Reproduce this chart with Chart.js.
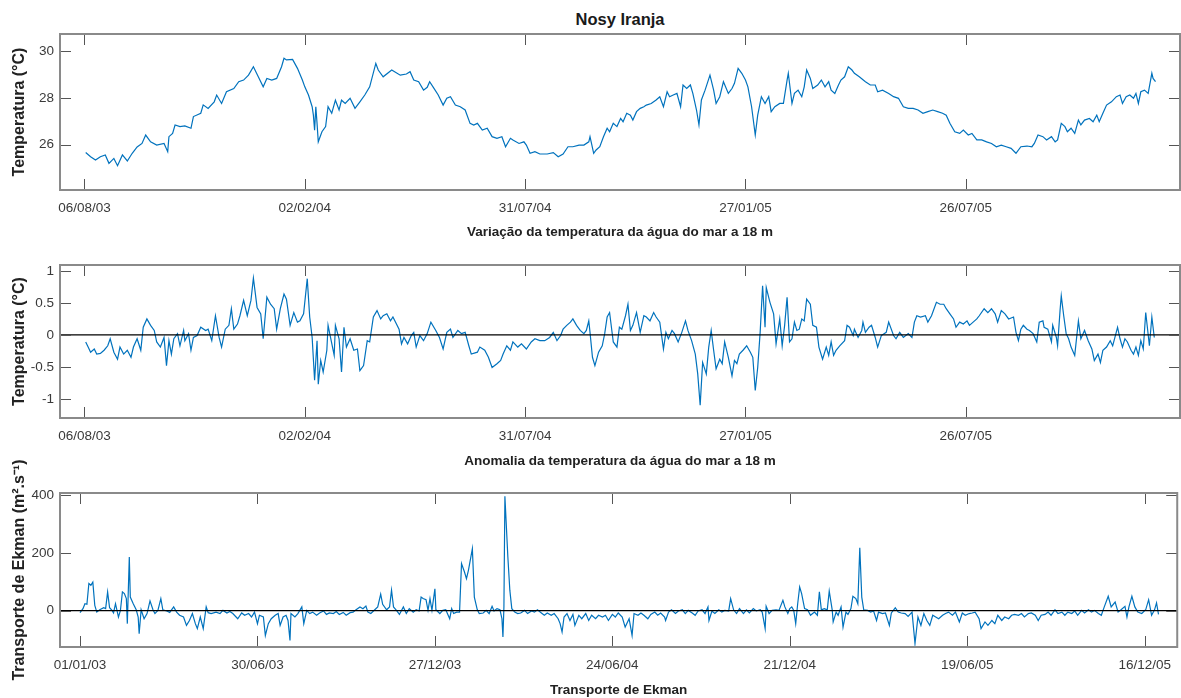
<!DOCTYPE html>
<html lang="pt">
<head>
  <meta charset="UTF-8">
  <title>Nosy Iranja</title>
  <script src="https://cdn.jsdelivr.net/npm/chart.js"></script>
  <style>
    body { margin: 0; background: #fff; }
    #page { position: relative; width: 1181px; height: 698px; overflow: hidden; }
    #page canvas { position: absolute; left: 0; }
    #title {
      position: absolute; left: 60px; width: 1120px; top: 10px;
      text-align: center; font: bold 16.5px 'Liberation Sans', Arial, sans-serif;
      line-height: 19px; color: #1a1a1a;
    }
  </style>
</head>
<body>
  <div id="page">
    <div id="title">Nosy Iranja</div>
    <canvas id="tempChart" width="1181" height="246" style="top:0"></canvas>
    <canvas id="anomChart" width="1181" height="226" style="top:246px"></canvas>
    <canvas id="ekmanChart" width="1181" height="252" style="top:446px"></canvas>
  </div>

  <script>
    // days counted from 06/08/03 (temperature) and from 01/01/03 (Ekman)
    const tempTickLabels = ["06/08/03", "02/02/04", "31/07/04", "27/01/05", "26/07/05"];
    const ekmanTickLabels = ["01/01/03", "30/06/03", "27/12/03", "24/06/04", "21/12/04", "19/06/05", "16/12/05"];
    const tickStepDays = 180;

    const tempYTicks = [26, 28, 30];
    const anomYTicks = [-1, -0.5, 0, 0.5, 1];
    const ekmanYTicks = [0, 200, 400];

    // temperature at 18 m (°C)
    const tempDays = [
      1,5,9,13,17,20,24,27,31,35,39,43,47,50,54,59,65,68,69,72,74,78,82,87,89,95,97,101,106,108,
      112,116,122,126,130,134,138,142,146,149,153,157,161,163,165,170,174,178,180,183,186,187,188,189,190,191,194,197,199,202,
      205,208,210,213,217,221,225,229,233,238,240,244,251,258,
      263,266,269,273,277,280,282,285,289,293,296,299,303,307,311,315,318,321,325,329,333,337,341,344,348,350,355,359,361,364,
      368,372,378,383,387,391,395,399,404,408,412,413,416,418,421,424,427,429,432,435,438,440,443,446,448,451,454,457,459,463,
      467,470,473,476,478,481,484,487,489,492,495,497,500,502,504,507,511,514,516,519,522,526,529,531,534,537,540,542,545,548,
      550,553,556,559,561,564,568,
      571,574,575,578,580,583,586,588,590,593,595,599,602,605,608,610,613,616,618,621,624,627,629,633,638,642,646,648,652,657,
      661,665,669,673,677,681,685,689,693,697,701,704,707,711,715,718,722,725,729,733,737,741,745,749,753,757,761,765,770,774,
      776,779,783,786,790,793,795,798,801,803,806,809,812,814,817,821,824,827,829,832,835,839,843,846,848,851,854,857,859,861,
      863,866,869,872,873,875
    ];
    const tempValues = [
      25.66,25.48,25.34,25.48,25.56,25.2,25.41,25.1,25.56,25.3,25.63,25.9,26.05,26.41,26.12,25.98,26.05,25.7,26.34,26.48,
      26.84,26.77,26.8,26.7,27.2,27.34,27.7,27.55,27.83,28.12,27.76,28.26,28.4,28.69,28.76,28.97,29.33,28.9,28.47,28.83,
      28.76,28.83,29.33,29.69,29.62,29.64,29.26,28.76,28.47,28.12,27.62,27.26,26.62,27.62,26.91,26.12,26.55,26.77,27.62,27.34,
      27.9,27.48,27.9,27.76,27.98,27.55,27.83,28.12,28.47,29.47,29.19,28.9,29.19,28.97,
      29.02,29.12,28.76,28.69,28.33,28.45,28.69,28.45,28.12,27.69,27.98,28.05,27.69,27.62,27.48,26.91,26.84,26.91,26.62,26.7,
      26.34,26.27,26.34,25.91,26.27,26.2,26.05,26.12,25.98,25.63,25.7,25.6,25.6,25.66,25.48,25.6,25.91,25.91,25.98,25.98,
      26.12,26.34,25.63,25.77,25.91,26.34,26.7,26.55,26.91,26.77,27.12,26.98,27.34,27.26,27.05,27.41,27.55,27.62,27.69,27.76,
      27.91,28.05,27.62,28.26,28.05,28.12,28.19,27.62,28.55,28.4,28.55,28.19,27.48,26.84,27.91,28.33,28.97,28.33,27.76,28.05,
      28.69,28.19,28.4,28.62,29.26,29.05,28.76,28.47,27.62,26.41,27.26,28.05,27.76,28.05,27.41,27.62,27.76,
      27.76,28.76,29.05,27.76,28.19,28.33,28.05,28.47,29.19,28.83,28.4,28.55,28.76,28.47,28.69,28.33,28.19,28.55,28.76,28.9,
      29.33,29.19,29.05,28.9,28.69,28.55,28.55,28.26,28.33,28.19,28.05,27.98,27.62,27.55,27.55,27.48,27.34,27.41,27.48,27.41,
      27.34,27.26,26.91,26.55,26.48,26.62,26.41,26.48,26.2,26.2,26.12,26.05,25.91,25.98,25.91,25.84,25.63,25.91,25.94,25.91,
      26.05,26.41,26.34,26.2,26.34,26.12,26.2,26.91,26.77,26.55,26.7,26.48,27.05,26.84,27.05,27.12,26.98,27.26,26.98,27.34,
      27.69,27.83,28.05,28.12,27.76,28.05,28.12,27.98,28.19,27.76,28.26,28.33,28.19,29.05,28.83,28.69
    ];

    // temperature anomaly at 18 m (°C)
    const anomDays = [
      1,3,5,8,10,13,16,19,21,24,27,29,32,35,38,40,43,46,48,51,54,57,59,62,65,67,69,71,73,76,
      78,81,82,85,87,89,92,95,99,101,104,107,110,112,115,118,120,122,125,127,130,133,136,138,141,144,146,149,152,155,
      157,160,163,165,168,171,174,176,179,182,184,186,188,190,191,193,195,198,199,201,204,205,208,210,212,214,217,220,223,225,
      228,231,233,236,239,242,244,247,250,252,257,
      259,261,264,267,269,271,274,277,280,283,287,290,293,296,299,301,305,308,311,314,316,321,323,327,330,333,337,340,342,345,
      348,350,354,357,361,365,368,372,376,380,383,386,389,391,394,397,399,402,405,408,410,412,413,415,417,420,423,425,427,429,
      432,435,437,439,442,444,446,448,451,454,457,459,462,465,467,470,473,475,477,480,482,485,488,491,493,496,499,501,503,505,
      508,510,512,514,516,519,521,523,526,529,531,533,535,538,541,544,546,548,550,552,554,556,557,560,563,565,568,
      570,572,574,576,578,580,582,584,586,588,590,593,595,598,600,603,606,608,610,612,614,617,621,623,625,628,629,632,635,636,
      638,641,643,646,648,651,655,657,661,663,666,669,673,676,678,680,683,687,689,692,696,699,702,704,707,710,712,715,718,721,
      723,726,729,731,735,738,741,744,746,749,752,755,759,761,763,765,767,770,772,775,778,780,783,784,787,790,791,794,795,797,
      798,800,802,804,806,809,812,814,817,820,823,825,828,830,832,835,838,840,844,846,848,850,852,855,857,859,861,863,865,867,
      870,872,874
    ];
    const anomValues = [
      -0.11,-0.19,-0.27,-0.22,-0.3,-0.29,-0.24,-0.17,-0.06,-0.27,-0.38,-0.19,-0.3,-0.24,-0.35,-0.19,-0.06,-0.24,0.12,0.25,
      0.15,0.07,-0.11,-0.19,-0.04,-0.48,-0.09,-0.3,-0.06,0.02,-0.17,0.07,-0.09,0.02,-0.24,-0.04,-0.01,0.12,0.07,0.09,
      -0.09,0.3,-0.04,-0.19,0.09,0.15,0.41,0.09,0.17,0.3,0.54,0.3,0.54,0.89,0.43,0.33,-0.06,0.59,0.48,0.41,
      0.09,0.41,0.64,0.56,0.15,0.35,0.2,0.22,0.33,0.88,0.28,-0.04,-0.71,-0.09,-0.77,-0.4,-0.58,-0.24,0.15,-0.04,
      -0.32,0.15,-0.06,-0.58,0.12,-0.19,-0.06,-0.24,-0.22,-0.56,-0.48,-0.09,-0.11,0.28,0.38,0.25,0.3,0.33,0.22,0.28,0.09,
      -0.14,-0.04,-0.14,-0.01,0.04,-0.19,-0.01,-0.09,0.02,0.2,0.07,-0.04,-0.22,0.04,0.09,-0.04,0.07,0.02,0.04,-0.17,
      -0.3,-0.27,-0.19,-0.24,-0.35,-0.51,-0.45,-0.4,-0.3,-0.17,-0.24,-0.11,-0.19,-0.14,-0.22,-0.11,-0.06,-0.09,-0.09,-0.04,
      0.04,-0.09,-0.01,0.09,0.15,0.2,0.25,0.15,0.07,0.02,0.07,0.22,0.04,-0.35,-0.48,-0.27,-0.17,0.02,0.28,0.35,
      -0.11,-0.19,0.12,0.09,0.3,0.48,0.07,0.15,0.35,0.04,0.3,0.28,0.22,0.35,0.28,0.2,-0.22,0.04,-0.06,0.07,
      0.02,-0.11,0.04,0.22,0.07,-0.09,-0.3,-0.61,-1.1,-0.43,-0.61,-0.19,0.07,-0.24,-0.53,-0.38,-0.45,-0.11,-0.35,-0.64,
      -0.4,-0.45,-0.3,-0.24,-0.17,-0.27,-0.35,-0.87,-0.51,0.04,0.77,0.12,0.74,0.51,0.33,-0.14,0.25,
      -0.17,0.15,0.59,-0.11,-0.06,0.2,0.07,0.09,0.25,0.22,0.56,0.48,0.15,0.12,-0.19,-0.38,-0.19,-0.32,-0.11,-0.32,
      -0.24,-0.17,-0.09,0.15,0.12,-0.01,0.09,-0.04,0.07,0.2,0.04,0.12,0.15,-0.04,-0.19,-0.01,0.04,0.2,-0.01,-0.06,
      0.04,-0.04,0.02,-0.04,0.2,0.3,0.28,0.3,0.2,0.3,0.51,0.48,0.48,0.41,0.33,0.25,0.12,0.2,0.17,0.22,
      0.15,0.2,0.25,0.3,0.41,0.35,0.41,0.33,0.2,0.38,0.33,0.25,0.28,0.04,-0.09,0.09,0.15,0.09,0.07,0.02,
      -0.11,0.2,0.22,0.12,0.09,-0.11,0.15,-0.04,-0.17,0.38,0.61,0.3,0.02,-0.06,-0.19,-0.32,0.22,-0.06,0.07,-0.09,
      -0.22,-0.4,-0.3,-0.43,-0.24,-0.19,-0.09,-0.17,0.12,-0.06,-0.19,-0.06,-0.11,-0.24,-0.3,-0.19,-0.32,-0.09,-0.22,0.35,
      -0.17,0.28,-0.04
    ];

    // Ekman transport (m².s⁻¹)
    const ekmanDays = [
      0,3,5,7,9,11,13,15,17,20,24,26,28,30,32,34,36,39,41,43,45,47,48,50,51,54,57,59,60,62,
      65,68,71,74,76,79,82,84,88,91,95,98,101,105,108,111,114,117,119,122,125,128,130,133,138,142,145,149,152,155,
      160,164,167,171,174,177,180,182,186,188,191,194,198,201,203,206,209,211,213,214,218,221,225,227,230,233,236,240,243,247,
      250,253,257,260,263,267,270,274,277,280,284,287,290,292,295,299,302,305,307,311,314,316,318,321,324,
      328,331,334,338,341,344,346,348,351,353,355,357,360,361,365,368,371,375,377,379,382,385,387,390,392,394,398,400,403,405,
      409,412,415,418,420,423,426,428,429,430,431,434,436,438,441,444,447,451,454,458,461,464,468,471,474,478,481,485,487,489,
      491,494,497,500,502,506,509,513,516,519,523,526,530,533,536,540,543,546,550,553,557,560,562,566,569,572,576,579,583,586,
      589,593,594,597,600,604,607,611,614,617,621,624,627,631,634,637,638,641,644,648,651,654,658,660,663,666,669,673,676,679,
      683,686,690,692,695,696,699,702,706,
      709,713,715,718,720,722,724,726,728,730,732,735,738,741,745,748,750,752,755,758,760,763,764,767,769,772,774,777,779,782,
      784,787,789,791,793,795,799,802,805,808,810,814,817,821,823,827,830,833,837,840,844,847,850,853,856,859,862,865,868,871,
      875,878,881,885,888,892,895,898,902,905,908,912,914,918,921,925,928,931,935,938,942,945,948,952,955,958,962,965,969,972,
      975,979,982,985,989,992,996,999,1002,1006,1009,1012,1016,1019,1023,1026,1029,1033,1036,1039,1043,1046,1050,1053,1056,1060,1062,1064,1067,1070,
      1073,1077,1081,1084,1087,1090,1092,1094
    ];
    const ekmanValues = [
      -7,7,24,22,94,88,99,18,-5,3,10,7,65,10,3,-8,24,-22,1,65,59,42,-45,186,47,24,3,-22,-80,3,
      -28,-10,34,3,-10,1,42,3,-1,-6,13,-5,-16,-22,-51,-34,-10,-45,-62,-22,-62,13,-7,-10,-5,-10,1,-8,-3,-10,
      -28,-8,-16,-10,-22,-5,-45,-16,-22,-86,-45,-28,-16,-10,-51,-22,-16,-34,-103,-10,-22,-10,13,-45,1,-10,-5,-16,-8,-1,
      -13,-8,-10,-3,-13,-6,-16,-7,-5,3,13,7,16,-5,-10,3,13,57,22,3,13,71,13,1,-13,
      13,-10,7,-5,3,-1,47,42,38,1,42,1,76,3,-10,1,3,-28,7,-10,-5,-5,163,134,111,140,215,47,3,-10,
      -8,1,-10,15,-1,7,3,-28,-91,13,397,186,71,7,-5,-10,-8,1,-10,-1,-5,3,-8,-16,-8,-16,-10,-28,-45,-74,
      -22,-10,-34,-13,-51,-16,-28,-10,-34,-16,-28,-16,-22,-16,-34,-13,-22,-8,-22,-57,-28,-86,-10,-16,-8,-16,-28,-13,-5,-16,
      -8,-22,-34,-5,3,-10,-1,3,-10,1,-8,-16,-1,3,-10,13,-34,-1,-10,3,-5,1,-1,42,3,-10,7,-10,3,-8,
      7,-1,3,-5,-62,15,-10,1,3,
      1,36,13,-10,7,13,1,-45,24,82,59,7,3,-16,-5,-16,65,3,7,3,68,3,-39,-5,-16,13,-57,-5,-13,7,
      50,42,24,218,47,3,1,-5,-1,-34,-5,-10,-8,-51,-8,10,-5,-8,-10,-20,-5,-114,-22,-51,-10,-34,-51,-16,-22,-28,
      -16,-10,-5,-16,-5,-39,-8,-16,-10,-8,-5,-28,-62,-39,-51,-34,-45,-16,-34,-22,-28,-16,-13,-16,-10,-22,-10,-8,-16,-34,
      -16,-13,-5,-16,3,-10,-5,-16,-5,-10,-1,-16,1,-8,3,-5,1,-10,-16,13,50,13,30,-5,3,15,-22,13,50,13,
      -5,-10,3,38,-16,3,27,-13
    ];

    const FONT = "'Liberation Sans', Arial, sans-serif";
    const LINE_BLUE = "#0072BD";

    // MATLAB-like axes: grey box, inward ticks on all four sides, optional zero line, rotated y label
    const framePlugin = {
      id: "frame",
      afterDatasetsDraw(chart, args, opts) {
        const { ctx, chartArea: a, scales: { x, y } } = chart;
        ctx.save();
        if (opts.zeroLine) {
          const py = y.getPixelForValue(0);
          ctx.strokeStyle = "#000";
          ctx.lineWidth = 1.3;
          ctx.beginPath();
          ctx.moveTo(a.left, py);
          ctx.lineTo(a.right, py);
          ctx.stroke();
        }
        ctx.strokeStyle = "#555";
        ctx.lineWidth = 1;
        ctx.beginPath();
        x.ticks.forEach(t => {
          const px = Math.round(x.getPixelForValue(t.value)) + 0.5;
          ctx.moveTo(px, a.bottom); ctx.lineTo(px, a.bottom - 11);
          ctx.moveTo(px, a.top); ctx.lineTo(px, a.top + 11);
        });
        y.ticks.forEach(t => {
          const py = Math.round(y.getPixelForValue(t.value)) + 0.5;
          ctx.moveTo(a.left, py); ctx.lineTo(a.left + 11, py);
          ctx.moveTo(a.right, py); ctx.lineTo(a.right - 11, py);
        });
        ctx.stroke();
        ctx.strokeStyle = "#8a8a8a";
        ctx.lineWidth = 2;
        ctx.strokeRect(a.left, a.top, a.right - a.left, a.bottom - a.top);

        // y label drawn here so long labels are not squeezed to the axis height
        ctx.translate(opts.yTitleX, (a.top + a.bottom) / 2);
        ctx.rotate(-Math.PI / 2);
        ctx.fillStyle = "#222";
        ctx.font = "bold 16px " + FONT;
        ctx.textAlign = "center";
        ctx.textBaseline = "middle";
        ctx.fillText(opts.yTitle, 0, 0);
        ctx.restore();
      }
    };

    function makePanel(id, p) {
      const points = p.days.map((d, i) => ({ x: d, y: p.values[i] }));
      return new Chart(document.getElementById(id), {
        type: "line",
        data: {
          datasets: [{
            data: points,
            borderColor: LINE_BLUE,
            borderWidth: 1.2,
            pointRadius: 0,
            tension: 0,
            fill: false
          }]
        },
        options: {
          responsive: false,
          animation: false,
          devicePixelRatio: 1,
          layout: { padding: { left: 0, right: 1, top: p.padTop, bottom: 0 } },
          plugins: {
            legend: { display: false },
            tooltip: { enabled: false },
            frame: { zeroLine: p.zeroLine, yTitle: p.yTitle, yTitleX: 20 }
          },
          scales: {
            x: {
              type: "linear",
              min: p.xMin,
              max: p.xMax,
              grid: { display: false, drawTicks: false },
              border: { display: false },
              afterBuildTicks: s => { s.ticks = p.tickLabels.map((_, i) => ({ value: i * tickStepDays })); },
              afterFit: s => { s.height = p.xHeight; },
              ticks: {
                autoSkip: false,
                maxRotation: 0,
                padding: 10,
                color: "#3a3a3a",
                font: { family: FONT, size: 13.5 },
                callback: v => p.tickLabels[Math.round(v / tickStepDays)]
              },
              title: {
                display: true,
                text: p.xTitle,
                color: "#222",
                font: { family: FONT, size: 13.5, weight: "bold" },
                padding: { top: 0, bottom: p.xTitlePad }
              }
            },
            y: {
              type: "linear",
              min: p.yMin,
              max: p.yMax,
              grid: { display: false, drawTicks: false },
              border: { display: false },
              afterBuildTicks: s => { s.ticks = p.yTicks.map(v => ({ value: v })); },
              afterFit: s => { s.width = 60; },
              ticks: {
                padding: 6,
                color: "#3a3a3a",
                font: { family: FONT, size: 13.5 },
                callback: v => String(v)
              }
            }
          }
        },
        plugins: [framePlugin]
      });
    }

    makePanel("tempChart", {
      days: tempDays, values: tempValues,
      xMin: -20, xMax: 895, yMin: 24.06, yMax: 30.73,
      tickLabels: tempTickLabels, yTicks: tempYTicks,
      padTop: 34, xHeight: 56, xTitlePad: 6,
      xTitle: "Variação da temperatura da água do mar a 18 m",
      yTitle: "Temperatura (°C)", zeroLine: false
    });

    makePanel("anomChart", {
      days: anomDays, values: anomValues,
      xMin: -20, xMax: 895, yMin: -1.3, yMax: 1.094,
      tickLabels: tempTickLabels, yTicks: anomYTicks,
      padTop: 19, xHeight: 54, xTitlePad: 2.5,
      xTitle: "Anomalia da temperatura da água do mar a 18 m",
      yTitle: "Temperatura (°C)", zeroLine: true
    });

    makePanel("ekmanChart", {
      days: ekmanDays, values: ekmanValues,
      xMin: -20.3, xMax: 1113, yMin: -126, yMax: 408,
      tickLabels: ekmanTickLabels, yTicks: ekmanYTicks,
      padTop: 47, xHeight: 51, xTitlePad: 0,
      xTitle: "Transporte de Ekman",
      yTitle: "Transporte de Ekman (m².s⁻¹)", zeroLine: true
    });
  </script>
</body>
</html>
